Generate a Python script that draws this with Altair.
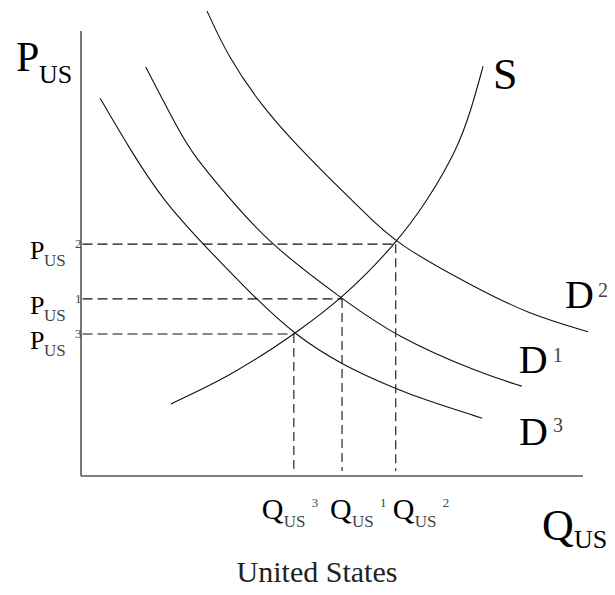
import altair as alt
import pandas as pd

# ---- data (quantity, price) ----
s_q = [17.9, 29.7, 39.6, 42.4, 52.0, 62.7, 69.1, 74.9, 77.7, 80.1]
s_p = [16.2, 22.5, 29.7, 31.9, 39.8, 52.1, 62.0, 73.3, 82.2, 92.1]

d2_q = [25.1, 29.3, 36.1, 42.6, 49.2, 56.0, 62.7, 79.5, 88.8, 101.0]
d2_p = [104.5, 94.2, 83.0, 74.8, 67.2, 59.8, 52.1, 41.8, 36.6, 32.4]

d1_q = [12.9, 19.7, 22.7, 29.3, 37.6, 52.0, 62.9, 79.5, 87.8]
d1_p = [91.9, 77.1, 71.7, 62.7, 52.1, 39.8, 31.2, 23.1, 20.2]

d3_q = [3.8, 9.8, 16.3, 24.3, 34.7, 42.4, 52.0, 62.7, 68.5, 79.9]
d3_p = [84.9, 73.3, 62.0, 52.1, 40.0, 31.9, 24.9, 19.6, 17.1, 13.0]

eq_names = ["3", "1", "2"]
eq_q = [42.4, 52.0, 62.7]
eq_p = [31.9, 39.8, 52.1]

FONT = "Liberation Serif, Times New Roman, Times, serif"
xs = alt.Scale(domain=[0, 100], nice=False, zero=False)
ys = alt.Scale(domain=[0, 100], nice=False, zero=False)


def X(f):
    return alt.X(f, type="quantitative", scale=xs, axis=None)


def Y(f):
    return alt.Y(f, type="quantitative", scale=ys, axis=None)


rows = []
for name, qs, ps in [("S", s_q, s_p), ("D2", d2_q, d2_p), ("D1", d1_q, d1_p), ("D3", d3_q, d3_p)]:
    for i, (q, p) in enumerate(zip(qs, ps)):
        rows.append({"curve": name, "q": q, "p": p, "i": i})
curves_df = pd.DataFrame(rows)

curves = alt.Chart(curves_df).mark_line(
    interpolate="basis", color="#111", strokeWidth=1.1
).encode(x=X("q"), y=Y("p"), detail="curve:N", order="i:Q")

axes_df = pd.DataFrame({"x": [0, 0], "y": [0, 0], "x2": [0, 100], "y2": [100, 0]})
axes = alt.Chart(axes_df).mark_rule(color="#555", strokeWidth=1.6).encode(
    x=X("x"), y=Y("y"), x2="x2:Q", y2="y2:Q"
)

eq_df = pd.DataFrame({"n": eq_names, "q": eq_q, "p": eq_p, "zero": [0.3] * 3, "floor": [1.1] * 3})
hdash = alt.Chart(eq_df).mark_rule(color="#111", strokeWidth=1.1, strokeDash=[10, 5]).encode(
    x=X("zero"), x2="q:Q", y=Y("p")
)
vdash = alt.Chart(eq_df).mark_rule(color="#111", strokeWidth=1.1, strokeDash=[9, 5]).encode(
    x=X("q"), y=Y("p"), y2="floor:Q"
)


def txt(x, y, s, size, dx, dy, color="black", align="left"):
    df = pd.DataFrame({"x": [x], "y": [y], "t": [s]})
    return alt.Chart(df).mark_text(
        align=align, baseline="alphabetic", dx=dx, dy=dy,
        fontSize=size, font=FONT, color=color
    ).encode(x=X("x"), y=Y("y"), text="t:N")


SUB = "#444"
layers = [axes, hdash, vdash, curves]

# axis titles
layers += [txt(0, 100, "P", 42, -65, 40), txt(0, 100, "US", 26, -42, 52)]
layers += [txt(100, 0, "Q", 44, -41, 64), txt(100, 0, "US", 26, -9, 72)]

# price tick labels
for n, p in zip(eq_names, eq_p):
    layers += [
        txt(0, p, "P", 26, -51, 15),
        txt(0, p, "US", 17, -37, 22, SUB),
        txt(0, p, n, 13, -6, 4, SUB),
    ]

# quantity tick labels
q_dx = {"3": -32, "1": -12, "2": -3}
for n, q in zip(eq_names, eq_q):
    d = q_dx[n]
    layers += [
        txt(q, 0, "Q", 30, d, 43),
        txt(q, 0, "US", 17, d + 22, 51, SUB),
        txt(q, 0, n, 13, d + 50, 31, SUB),
    ]

# curve labels
layers.append(txt(s_q[-1], s_p[-1], "S", 44, 10, 23))
layers += [txt(d2_q[-1], d2_p[-1], "D", 40, -23, -24), txt(d2_q[-1], d2_p[-1], "2", 20, 10, -35, SUB)]
layers += [txt(d1_q[-1], d1_p[-1], "D", 40, -3, -13), txt(d1_q[-1], d1_p[-1], "1", 20, 31, -24, SUB)]
layers += [txt(d3_q[-1], d3_p[-1], "D", 40, 37, 27), txt(d3_q[-1], d3_p[-1], "3", 20, 71, 14, SUB)]

layers.append(txt(0, 0, "United States", 30, 236, 106, "#222", "center"))

chart = alt.layer(*layers).properties(
    width=502, height=445,
    padding={"left": 73, "top": 23, "right": 24, "bottom": 111},
    autosize="none",
).configure_view(stroke=None)

chart.save("out.html", embed_options={"renderer": "svg", "actions": False})
